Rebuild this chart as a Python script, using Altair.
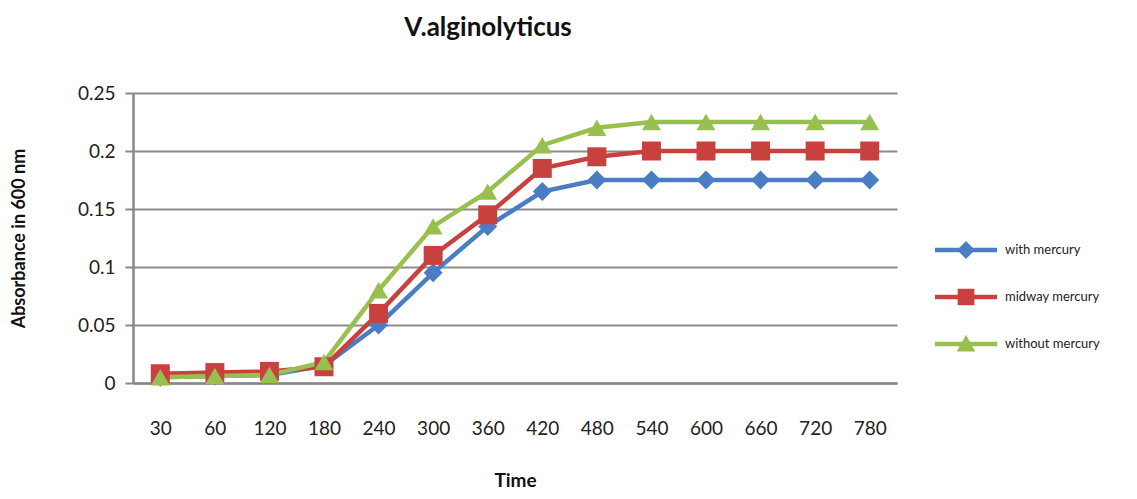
import altair as alt
import pandas as pd

times = ["30", "60", "120", "180", "240", "300", "360", "420", "480", "540", "600", "660", "720", "780"]
series = ["with mercury", "midway mercury", "without mercury"]
with_mercury = [0.005, 0.006, 0.007, 0.015, 0.05, 0.095, 0.135, 0.165, 0.175, 0.175, 0.175, 0.175, 0.175, 0.175]
midway_mercury = [0.008, 0.009, 0.01, 0.014, 0.06, 0.11, 0.145, 0.185, 0.195, 0.2, 0.2, 0.2, 0.2, 0.2]
without_mercury = [0.005, 0.006, 0.007, 0.018, 0.08, 0.135, 0.165, 0.205, 0.22, 0.225, 0.225, 0.225, 0.225, 0.225]
y_ticks = [0, 0.05, 0.1, 0.15, 0.2, 0.25]

colors = ["#4a7dc4", "#c9413f", "#98c04e"]
shapes = ["diamond", "square", "triangle-up"]
bar = "M-1,-0.07H1V0.07H-1Z "
legend_shapes = [
    bar + "M0,-0.29L0.29,0L0,0.29L-0.29,0Z",
    bar + "M-0.27,-0.27H0.27V0.27H-0.27Z",
    bar + "M0,-0.3L0.3,0.24L-0.3,0.24Z",
]

rows = []
for name, vals in zip(series, [with_mercury, midway_mercury, without_mercury]):
    for t, v in zip(times, vals):
        rows.append({"time": t, "value": v, "series": name})
df = pd.DataFrame(rows)

FONT = "Lato"

x = alt.X("time:N", sort=times, title="Time",
          scale=alt.Scale(padding=0.5),
          axis=alt.Axis(labelAngle=0, labelFontSize=19, labelColor="#222",
                        labelPadding=36, ticks=False, domainColor="#888",
                        domainWidth=2.5, titleFontSize=19, titleFontWeight="bold",
                        titlePadding=33, titleColor="#111", labelFont=FONT, titleFont=FONT))
y = alt.Y("value:Q", title="Absorbance in 600 nm",
          scale=alt.Scale(domain=[0, 0.25], nice=False),
          axis=alt.Axis(values=y_ticks, format=".2~f", labelFontSize=19, labelColor="#222",
                        labelPadding=10, tickSize=8, tickColor="#888", tickWidth=2,
                        domainColor="#888", domainWidth=2.5, gridColor="#8c8c8c",
                        gridWidth=1.8, titleFontSize=18, titleFontWeight="bold",
                        titleColor="#111", titleX=-114, titleY=145, titleAngle=-90,
                        titleBaseline="middle", titleAlign="center",
                        labelFont=FONT, titleFont=FONT))

color_scale = alt.Scale(domain=series, range=colors)

base = alt.Chart(df)

lines = base.mark_line(strokeWidth=4.5).encode(
    x=x, y=y,
    color=alt.Color("series:N", scale=color_scale, legend=None),
)

points = base.mark_point(filled=True, size=360, opacity=1).encode(
    x=x, y=y,
    color=alt.Color("series:N", scale=color_scale, legend=None),
    shape=alt.Shape("series:N", scale=alt.Scale(domain=series, range=shapes), legend=None),
)

leg = alt.Legend(title=None, orient="none", legendX=802, legendY=126,
                 symbolSize=3844, symbolStrokeWidth=0, symbolOpacity=1,
                 labelFontSize=13, labelFont=FONT, labelColor="#222",
                 labelOffset=8, rowPadding=7, padding=0)

legend_layer = base.mark_point(filled=True, opacity=1, size=3844).encode(
    x=x, y=y,
    color=alt.Color("series:N", scale=color_scale, legend=leg),
    shape=alt.Shape("series:N", scale=alt.Scale(domain=series, range=legend_shapes), legend=leg),
).transform_filter("false")

chart = alt.layer(lines, points, legend_layer).resolve_scale(
    shape="independent", color="independent"
).properties(
    width=764, height=290,
    title=alt.Title("V.alginolyticus", fontSize=26, font=FONT, fontWeight="bold",
                    color="#111", anchor="middle", dx=-27, offset=43),
    autosize=alt.AutoSizeParams(type="none"),
    padding={"left": 125, "top": 85, "right": 230, "bottom": 106},
).configure_view(stroke=None)

chart.save("out.html", embed_options={"renderer": "svg", "actions": False})
